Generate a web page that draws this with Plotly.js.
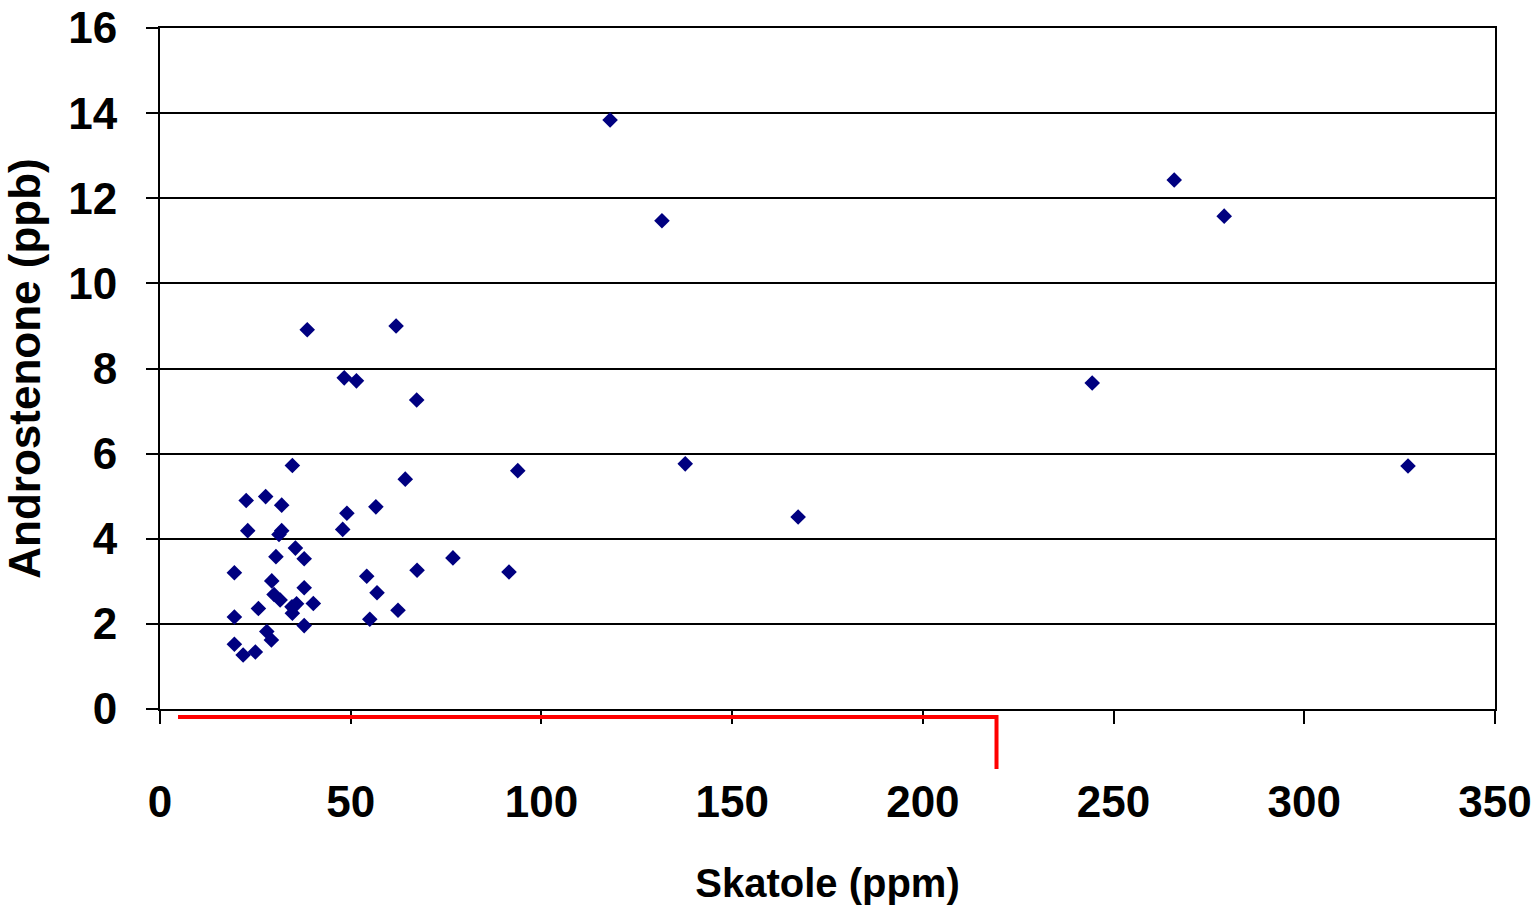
<!DOCTYPE html>
<html>
<head>
<meta charset="utf-8">
<script src="https://cdn.plot.ly/plotly-3.0.1.min.js"></script>
<style>html,body{margin:0;padding:0;background:#fff;}#chart{width:1538px;height:915px;}
.main-svg text{font-stretch:condensed !important;}</style>
</head>
<body>
<div id="chart"></div>
<script>
const skatole = [118.0, 131.6, 265.9, 279.0, 38.6, 61.9, 48.3, 51.5, 67.3, 244.4,
  34.7, 93.8, 137.7, 327.2, 64.3, 167.3, 22.6, 27.7, 31.9, 56.6,
  49.0, 47.9, 23.0, 31.9, 31.2, 35.5, 37.8, 30.4, 19.5, 29.3,
  37.8, 29.9, 31.5, 25.8, 34.6, 35.8, 34.7, 40.2, 19.5, 37.8,
  28.0, 29.2, 19.5, 21.8, 25.0, 54.2, 56.9, 67.4, 55.0, 62.4,
  76.8, 91.5];
const androstenone = [13.84, 11.47, 12.43, 11.58, 8.91, 9.00, 7.78, 7.71, 7.26, 7.66,
  5.72, 5.60, 5.76, 5.71, 5.40, 4.51, 4.90, 4.99, 4.79, 4.75,
  4.60, 4.22, 4.19, 4.19, 4.10, 3.78, 3.53, 3.58, 3.20, 3.01,
  2.85, 2.69, 2.56, 2.36, 2.40, 2.47, 2.25, 2.48, 2.16, 1.96,
  1.82, 1.62, 1.52, 1.27, 1.34, 3.12, 2.73, 3.26, 2.11, 2.32,
  3.55, 3.22];
const xTicks = [0, 50, 100, 150, 200, 250, 300, 350];
const yTicks = [0, 2, 4, 6, 8, 10, 12, 14, 16];
const xTitle = 'Skatole (ppm)';
const yTitle = 'Androstenone (ppb)';

const FONT = '"Liberation Sans Narrow", "Liberation Sans", "Arial Narrow", sans-serif';

const trace = {
  x: skatole, y: androstenone, type: 'scatter', mode: 'markers',
  marker: {symbol: 'diamond', size: 12, color: '#000080'},
  hoverinfo: 'x+y'
};

const layout = {
  width: 1538, height: 915,
  margin: {l: 160, r: 43, t: 28, b: 206},
  paper_bgcolor: '#fff', plot_bgcolor: '#fff',
  showlegend: false,
  font: {family: FONT, color: '#000'},
  xaxis: {
    range: [0, 350], tickvals: xTicks, ticktext: xTicks.map(String),
    showgrid: false, zeroline: false,
    showline: true, linecolor: '#000', linewidth: 2, mirror: true,
    ticks: 'outside', ticklen: 13, tickwidth: 2, tickcolor: '#000',
    ticklabelstandoff: 40,
    tickfont: {family: FONT, size: 44, weight: 'bold', color: '#000'},
    title: {text: '<b>' + xTitle + '</b>', font: {family: FONT, size: 40, color: '#000'}, standoff: 44}
  },
  yaxis: {
    range: [0, 16], tickvals: yTicks, ticktext: yTicks.map(String),
    showgrid: true, gridcolor: '#000', gridwidth: 2,
    zeroline: false,
    showline: true, linecolor: '#000', linewidth: 2, mirror: true,
    ticks: 'outside', ticklen: 12, tickwidth: 2, tickcolor: '#000',
    ticklabelstandoff: 20,
    tickfont: {family: FONT, size: 44, weight: 'bold', color: '#000'},
    title: {text: '<b>' + yTitle + '</b>', font: {family: FONT, size: 44, color: '#000'}, standoff: 24}
  },
  shapes: [
    {type: 'path', xref: 'paper', yref: 'paper',
     path: 'M 0.0135 -0.0117 L 0.6266 -0.0117 L 0.6266 -0.088',
     line: {color: '#ff0000', width: 4}}
  ]
};

Plotly.newPlot('chart', [trace], layout, {displayModeBar: false, staticPlot: true});
</script>
</body>
</html>
